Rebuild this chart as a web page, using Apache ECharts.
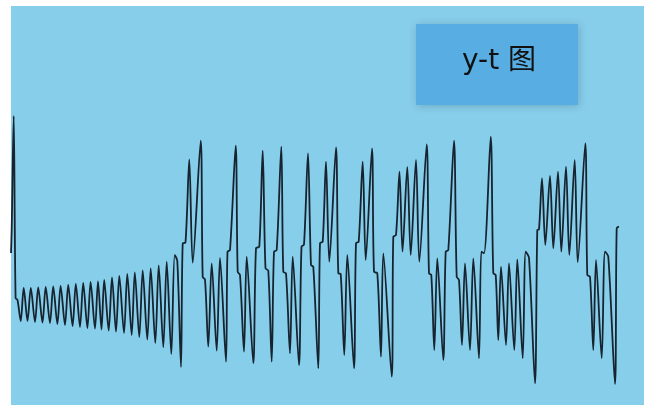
<!DOCTYPE html>
<html>
<head>
<meta charset="utf-8">
<script src="https://cdn.jsdelivr.net/npm/echarts@6/dist/echarts.min.js"></script>
<style>
html,body{margin:0;padding:0;background:#fff;}
#chart{width:649px;height:405px;}
</style>
</head>
<body>
<div id="chart"></div>
<script>
// time values
var tValues = [
  11, 11.7, 13.7, 15.6, 17.5,
  20.7, 23.7, 27.5, 30.8, 35, 38.2, 42.5, 45.7, 50, 53.2, 57.4, 60.6, 65, 68.2,
  72.6, 75.8, 80, 83.2, 87.4, 90.6, 95, 98, 101.5, 104.2, 108.7, 112, 116, 119.3,
  124, 127.3, 131.7, 134.8, 139.3, 142.7, 147.3, 150.7, 155.3, 158.7, 163.3, 166.7,
  171.3, 174.7, 177.3, 181,
  182.7, 185.5, 189.3, 192.7, 200.7, 202.7, 205, 208.3, 211.7, 216.7, 220, 226,
  227.5, 230, 235.7, 237.7, 240, 244, 246.7, 253.3,
  256, 259.3, 262.7, 265.5, 268.3, 271.7,
  274, 276.7, 281.3, 283.3, 286, 290, 292.7, 299,
  301.5, 304, 308, 311, 313.3, 318.3,
  320, 322.7, 326, 329.3, 336, 338.3, 340.7, 344.3, 347.3, 354,
  356, 358.7, 362.7, 365.7, 372, 374, 377.3, 381, 383.3, 391.7,
  393.3, 396, 399.5, 402.5, 407.3, 410.7, 416, 419.3, 426.7, 429, 431.3, 434.3, 437.3, 443.3,
  445.7, 448.3, 454, 456.7, 459, 462, 465, 470, 473.3, 479,
  481.3, 484, 490.7, 493.3, 495.7, 498.3, 501, 506, 509, 514.3, 517.3, 522.7, 525.7, 529, 535,
  537.3, 539, 542, 545.3, 550, 553.3, 558, 561.3, 566, 569.3, 574.7, 577.7,
  585.3, 587.3, 590, 593.3, 596, 601.7, 605, 608.3, 615, 616.7, 619
];
// y values
var yValues = [
  147, 171, 284, 102, 100,
  79, 112, 79, 112, 78, 112.5, 77.5, 113, 77, 113.5, 76, 114, 75, 115,
  74, 116, 73, 117, 72, 118, 71.5, 118.5, 70.5, 120, 69.5, 122.5, 68.3, 124,
  67, 126, 65, 127.5, 63, 129.5, 60.5, 131.7, 57, 134.7, 52.7, 138.3,
  46, 145, 139, 33,
  156.5, 157.5, 240.5, 137.3, 259.3, 123, 120.5, 53.3, 136.7, 49.3, 142, 38.3,
  148.3, 150, 254.3, 128.3, 125, 48.3, 143.3, 36.7,
  151.7, 153.3, 249.3, 131.7, 129.3, 38.3,
  148.3, 150, 253.3, 128.3, 126.7, 46.7, 143.3, 35,
  153.3, 155.5, 246.7, 135, 133.3, 31.7,
  156.7, 158.3, 238.3, 138.3, 252.7, 126.7, 126, 45, 145, 31.7,
  156.7, 158.3, 238.3, 140, 251.7, 128.3, 126.7, 43.3, 146.7, 23.3,
  163.3, 165, 228.3, 148.3, 233, 145, 240, 138.3, 255.7, 126.7, 125, 50, 141.7, 40,
  148.3, 150, 259.3, 123.3, 120, 55, 136.7, 50, 141.7, 41.7,
  148.3, 146.7, 263.3, 126.7, 125, 60, 133.3, 55, 136.7, 50, 140.7, 41.7, 148.3, 142, 16.7,
  170, 170.7, 221.7, 155, 224, 151.7, 228.3, 148.3, 233.3, 145, 240, 137.7,
  256.7, 125, 123.3, 50, 140, 41.7, 148.3, 143.3, 16, 171.7, 173.3
];
var titleText = 'y-t 图';

var seriesData = tValues.map(function (t, i) { return [t, yValues[i]]; });

var chart = echarts.init(document.getElementById('chart'), null, {renderer: 'canvas'});
chart.setOption({
  animation: false,
  backgroundColor: '#ffffff',
  grid: {
    left: 11, right: 5, top: 6, bottom: 0,
    show: true, backgroundColor: '#87CEEB', borderWidth: 0
  },
  xAxis: {
    type: 'value', min: 11, max: 644, show: false
  },
  yAxis: {
    type: 'value', min: -5, max: 394, show: false
  },
  graphic: [
    {
      type: 'rect',
      shape: {x: 416, y: 24, width: 162, height: 81},
      style: {
        fill: '#58aee3',
        shadowBlur: 8, shadowColor: 'rgba(0,0,0,0.18)', shadowOffsetX: 1, shadowOffsetY: 1
      },
      z: 10
    },
    {
      type: 'text',
      x: 499, y: 62,
      style: {
        text: titleText,
        fill: '#111',
        font: '28px "DejaVu Sans", "Noto Sans CJK SC", sans-serif',
        align: 'center', verticalAlign: 'middle'
      },
      z: 11
    }
  ],
  series: [{
    type: 'line',
    data: seriesData,
    showSymbol: false,
    smooth: 0.3,
    lineStyle: {color: '#17242f', width: 1.8},
    silent: true
  }]
});
</script>
</body>
</html>
